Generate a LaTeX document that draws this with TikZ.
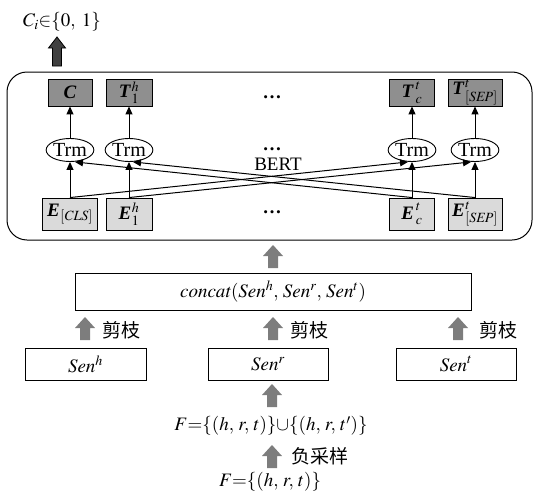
\documentclass[tikz,border=0pt]{standalone}
\usepackage{mathptmx}
\usepackage{fontspec}
\setmainfont{Liberation Serif}
\newfontfamily\cjk{Noto Sans CJK SC}
\usetikzlibrary{arrows.meta,shapes.geometric,calc}
\definecolor{boxdark}{RGB}{143,143,143}
\definecolor{boxlight}{RGB}{218,218,218}
\definecolor{arrgray}{RGB}{125,125,125}
\definecolor{arrdark}{RGB}{64,64,64}
\newcommand\bfit[1]{\textbf{\textit{#1}}\kern0.6pt}
\newcommand\suptc{\ensuremath{^{\raisebox{1.5pt}{$\scriptstyle t$}}_{\raisebox{-1pt}{$\scriptstyle c$}}}}
% block arrow pointing up: #1 style, #2 base point, #3 shaft half width, #4 head half width, #5 shaft length, #6 head length
\newcommand\blockup[6]{\path[#1] (#2) ++(-#3,0) -- ++(0,-#5) -- ++(#3-#4,0) -- ++(#4,-#6) -- ++(#4,#6) -- ++(#3-#4,0) -- ++(0,#5) -- cycle;}
\begin{document}
\begin{tikzpicture}[x=1pt,y=-1pt,font=\fontsize{19}{22}\selectfont,
  tbox/.style={draw, fill=boxdark, line width=0.9pt, minimum height=27pt, inner sep=0pt},
  ebox/.style={draw, fill=boxlight, line width=0.9pt, minimum height=32pt, inner sep=0pt},
  trm/.style={draw, ellipse, line width=0.9pt, minimum width=46pt, minimum height=23pt, inner sep=0pt, font=\fontsize{20}{22}\selectfont},
  senbox/.style={draw, line width=0.9pt, minimum height=32pt, minimum width=120pt, inner sep=0pt},
  arr/.style={line width=1pt, -{Triangle[length=8pt,width=7pt]}},
  garrow/.style={fill=arrgray},
  darrow/.style={fill=arrdark, draw=black, line width=0.8pt},
  lbl/.style={inner sep=0pt}]
\useasboundingbox (0,0) rectangle (534,495);

% BERT frame
\node[draw, rounded corners=20pt, line width=1pt, minimum width=525pt, minimum height=168pt] (bertbox) at (269.5,156) {};
\node[lbl] (ci) at (62,22) {$C_i{\in}\{0,\;1\}$};
\coordinate (topbase) at (57,66);
\blockup{darrow}{topbase}{4.5}{8.5}{18}{11}

% output tokens
\node[tbox, minimum width=44pt] (tc) at (70,92.5) {\textbf{\textit{C}}};
\node[tbox, minimum width=46pt] (th) at (129,92.5) {\bfit{T}$^{h}_{1}$};
\node[tbox, minimum width=45pt] (tt) at (412,92.5) {\bfit{T}\kern1.2pt\suptc};
\node[tbox, minimum width=54pt] (tsep) at (475,92.5) {\bfit{T}$^{t}_{[\mathit{SEP}]}$};

% transformer units
\node[trm] (trm1) at (70,150) {Trm};
\node[trm] (trm2) at (129,150) {Trm};
\node[trm] (trm3) at (412,150) {Trm};
\node[trm] (trm4) at (475,150) {Trm};

% embeddings
\node[ebox, minimum width=55pt] (ecls) at (70,214) {\bfit{E}$_{[\mathit{CLS}]}$};
\node[ebox, minimum width=46pt] (eh) at (129,214) {\bfit{E}$^{h}_{1}$};
\node[ebox, minimum width=45pt] (et) at (412,214) {\bfit{E}\kern1.2pt\suptc};
\node[ebox, minimum width=54pt] (esep) at (475,214) {\bfit{E}$^{t}_{[\mathit{SEP}]}$};

% dots and label
\node[lbl] (d1) at (272,97) {\bfseries …};
\node[lbl] (d2) at (272,149) {\bfseries …};
\node[lbl] (d3) at (272,212) {\bfseries …};
\node[lbl] (bert) at (278,164) {BERT};

% connectors
\foreach \e/\t/\o in {ecls/trm1/tc, eh/trm2/th, et/trm3/tt, esep/trm4/tsep}{
  \draw[arr] (\e.north) -- (\t.south);
  \draw[arr] (\t.north) -- (\o.south);
}
\draw[arr] (ecls.north) -- ([xshift=-4pt]trm3.south);
\draw[arr] (eh.north) -- ([xshift=-4pt]trm4.south);
\draw[arr] (et.north) -- ([xshift=5pt]trm1.south);
\draw[arr] (esep.north) -- ([xshift=4pt]trm2.south);

% lower part
\node[draw, line width=0.9pt, minimum width=396pt, minimum height=37pt, inner sep=0pt] (concat) at (273,291.5)
  {$\mathit{concat}(\mathit{Sen}^{h},\, \mathit{Sen}^{r},\, \mathit{Sen}^{t})$};
\node[senbox, minimum width=121pt] (senh) at (85.5,364) {$\mathit{Sen}^{h}$};
\node[senbox] (senr) at (268,364) {$\mathit{Sen}^{r}$};
\node[senbox] (sent) at (456,364) {$\mathit{Sen}^{t}$};

\node[lbl, anchor=west] (jz1) at (102,330) {\cjk 剪枝};
\node[lbl, anchor=west] (jz2) at (290,330) {\cjk 剪枝};
\node[lbl, anchor=west] (jz3) at (479,330) {\cjk 剪枝};

\node[lbl] (f1) at (271,426) {$F{=}\{(h,\,r,\,t)\}{\cup}\{(h,\,r,\,t')\}$};
\node[lbl, anchor=west] (neg) at (291,456) {\cjk 负采样};
\node[lbl] (f0) at (270,482) {$F{=}\{(h,\,r,\,t)\}$};

\coordinate (g1) at (273,268);
\coordinate (g2) at (85,340);
\coordinate (g3) at (273,340);
\coordinate (g4) at (458,340);
\coordinate (g5) at (272,407);
\coordinate (g6) at (272,468);
\foreach \g in {g1,g2,g3,g4,g5,g6}{\blockup{garrow}{\g}{5}{10}{12}{11}}
\end{tikzpicture}
\end{document}
